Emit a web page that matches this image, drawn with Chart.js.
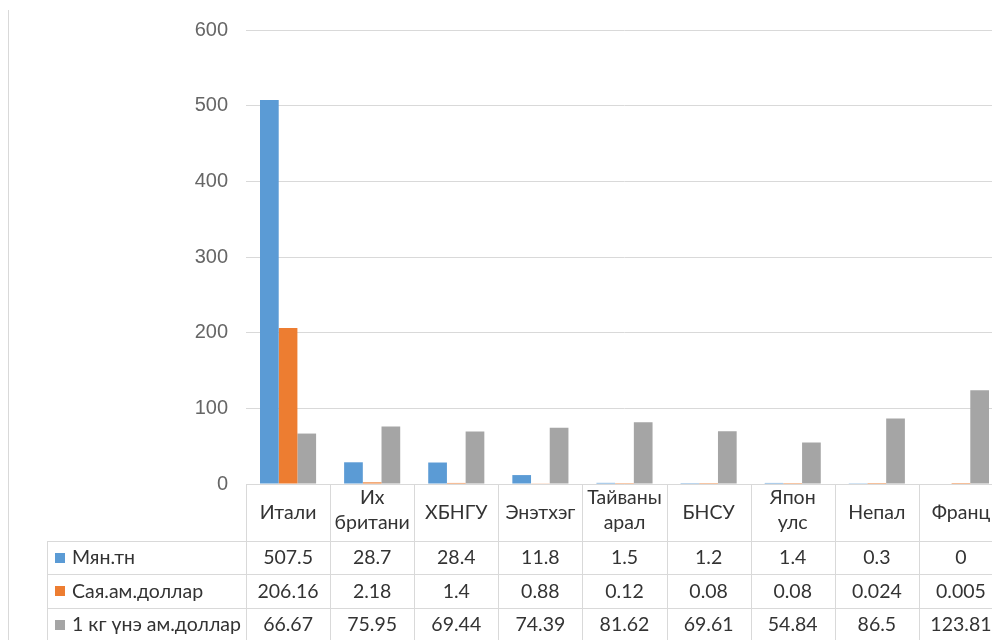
<!DOCTYPE html>
<html>
<head>
<meta charset="utf-8">
<script src="https://cdn.jsdelivr.net/npm/chart.js@4"></script>
<style>
  html, body { margin: 0; padding: 0; background: #ffffff; overflow: hidden; width: 992px; height: 640px; }
  canvas { display: block; }
</style>
</head>
<body>
<canvas id="chart" width="1010" height="640"></canvas>
<script>
// Countries (multi-line labels as arrays)
const categories = ['Итали', ['Их', 'британи'], 'ХБНГУ', 'Энэтхэг', ['Тайваны', 'арал'], 'БНСУ', ['Япон', 'улс'], 'Непал', 'Франц'];

// Series
const seriesNames = ['Мян.тн', 'Сая.ам.доллар', '1 кг үнэ ам.доллар'];
const volumeTons = [507.5, 28.7, 28.4, 11.8, 1.5, 1.2, 1.4, 0.3, 0];
const valueMillionUsd = [206.16, 2.18, 1.4, 0.88, 0.12, 0.08, 0.08, 0.024, 0.005];
const pricePerKgUsd = [66.67, 75.95, 69.44, 74.39, 81.62, 69.61, 54.84, 86.5, 123.81];

// Y axis ticks
const yTicks = [0, 100, 200, 300, 400, 500, 600];

const seriesValues = [volumeTons, valueMillionUsd, pricePerKgUsd];
const seriesColors = ['#5B9BD5', '#ED7D31', '#A5A5A5'];

const FONT = 'Lato, "Noto Sans", sans-serif';
const AXIS_FONT = '"Liberation Sans", Arial, sans-serif';
const GRID = '#d9d9d9';
const TEXT = '#333333';

// Data table drawn under the plot, aligned with the category scale
const dataTablePlugin = {
  id: 'dataTable',
  afterDraw(chart) {
    const ctx = chart.ctx;
    const xs = chart.scales.x;
    const area = chart.chartArea;
    const n = categories.length;
    const cw = (area.right - area.left) / n;
    const top = area.bottom;
    const headerBottom = top + 57;
    const rowH = 33.3;
    const tableLeft = 47;
    const bottom = chart.height;

    ctx.save();
    // outer chart border on the left
    ctx.strokeStyle = GRID;
    ctx.lineWidth = 1;
    ctx.beginPath();
    ctx.moveTo(8.5, 10);
    ctx.lineTo(8.5, bottom);
    ctx.stroke();

    // horizontal rules
    ctx.beginPath();
    ctx.moveTo(area.left, Math.round(top) + 0.5);
    ctx.lineTo(area.right, Math.round(top) + 0.5);
    for (let r = 0; r < 3; r++) {
      const y = Math.round(headerBottom + r * rowH) + 0.5;
      ctx.moveTo(tableLeft, y);
      ctx.lineTo(area.right, y);
    }
    // vertical rules
    ctx.moveTo(tableLeft + 0.5, headerBottom);
    ctx.lineTo(tableLeft + 0.5, bottom);
    for (let i = 0; i <= n; i++) {
      const x = Math.round(area.left + i * cw) + 0.5;
      ctx.moveTo(x, top);
      ctx.lineTo(x, bottom);
    }
    ctx.stroke();

    // header: category names
    ctx.fillStyle = TEXT;
    ctx.font = '19.5px ' + FONT;
    ctx.textAlign = 'center';
    ctx.textBaseline = 'middle';
    categories.forEach((lab, i) => {
      const cx = xs.getPixelForValue(i);
      if (Array.isArray(lab)) {
        const lh = 25;
        const y0 = top + 26 - (lab.length - 1) * lh / 2;
        lab.forEach((line, k) => ctx.fillText(line, cx, y0 + k * lh));
      } else {
        ctx.fillText(lab, cx, top + 29);
      }
    });

    // rows: legend key + values
    seriesNames.forEach((name, r) => {
      const cy = headerBottom + r * rowH + rowH / 2 + 0.5;
      ctx.fillStyle = seriesColors[r];
      ctx.fillRect(55, Math.round(cy - 5), 10, 10);
      ctx.fillStyle = TEXT;
      ctx.textAlign = 'left';
      ctx.fillText(name, 72, cy);
      ctx.textAlign = 'center';
      seriesValues[r].forEach((v, i) => {
        ctx.fillText(String(v), xs.getPixelForValue(i), cy);
      });
    });
    ctx.restore();
  }
};

new Chart(document.getElementById('chart'), {
  type: 'bar',
  data: {
    labels: categories,
    datasets: seriesNames.map((name, k) => ({
      label: name,
      data: seriesValues[k],
      backgroundColor: seriesColors[k],
      borderWidth: 0,
      categoryPercentage: 0.667,
      barPercentage: 1.0
    }))
  },
  options: {
    responsive: false,
    animation: false,
    devicePixelRatio: 1,
    layout: { padding: { top: 28, right: 7, bottom: 156, left: 0 } },
    plugins: {
      legend: { display: false },
      tooltip: { enabled: false }
    },
    scales: {
      x: { display: false },
      y: {
        min: 0,
        max: 600,
        afterBuildTicks: (s) => { s.ticks = yTicks.map(v => ({ value: v })); },
        afterFit: (s) => { s.width = 246; },
        border: { display: false },
        grid: { color: GRID, lineWidth: 1, drawTicks: false },
        ticks: {
          color: '#666666',
          font: { family: AXIS_FONT, size: 20 },
          padding: 18
        }
      }
    }
  },
  plugins: [dataTablePlugin]
});
</script>
</body>
</html>
